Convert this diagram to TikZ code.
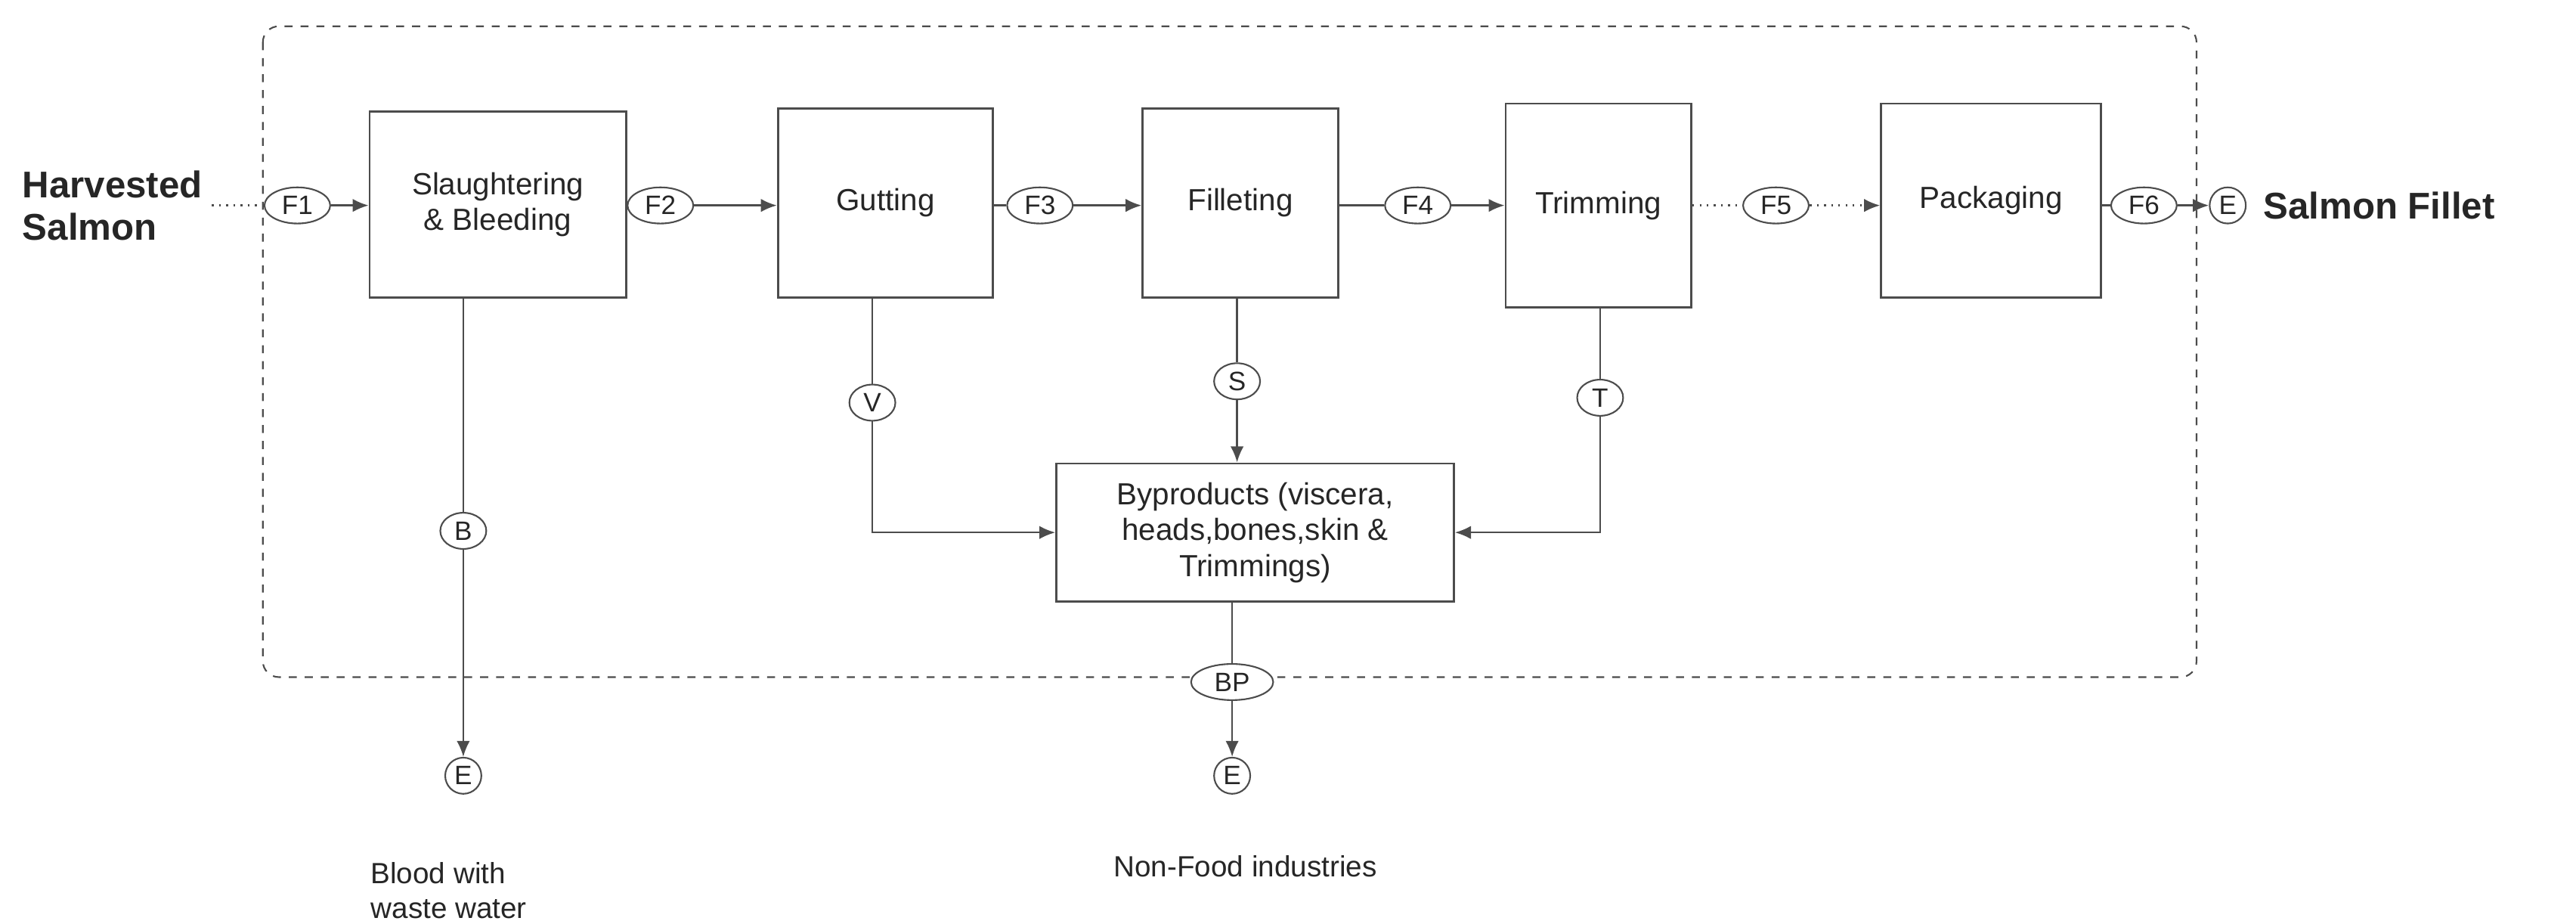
\documentclass[tikz,border=0pt]{standalone}
\usepackage{fontspec}
\setmainfont{Liberation Sans}
\usetikzlibrary{arrows.meta,shapes.geometric}
\begin{document}
\begin{tikzpicture}[x=0.02173cm,y=-0.02173cm,
  every node/.style={text=black!85},
  proc/.style={draw=black!70,line width=0.8pt,inner sep=0pt,font=\fontsize{11.5}{13.5}\selectfont,align=center},
  lab/.style={draw=black!70,line width=0.6pt,ellipse,inner sep=0pt,minimum height=22*0.02173cm,fill=white,font=\fontsize{10}{12}\selectfont},
  ln/.style={draw=black!70,line width=0.7pt},
  arr/.style={ln,-{Latex[length=6pt,width=5pt]}},
  dot/.style={ln,dotted}]
\useasboundingbox (0,0) rectangle (1568,560);
\draw[black!70,dashed,rounded corners=6pt,line width=0.6pt] (160,16) rectangle (1337,412);
\node[font=\fontsize{14}{16}\selectfont\bfseries,align=left,anchor=west] (hs) at (8,125) {Harvested\\Salmon};
\node[proc,minimum width=156*0.02173cm,minimum height=113*0.02173cm] (sl) at (303,124.5) {Slaughtering\\\& Bleeding};
\node[proc,minimum width=131*0.02173cm,minimum height=115*0.02173cm] (gu) at (539,123.5) {Gutting};
\node[proc,minimum width=119*0.02173cm,minimum height=115*0.02173cm] (fi) at (755,123.5) {Filleting};
\node[proc,minimum width=113*0.02173cm,minimum height=124*0.02173cm] (tr) at (973,125) {Trimming};
\node[proc,minimum width=134*0.02173cm,minimum height=118*0.02173cm] (pa) at (1212,122) {Packaging};
\node[proc,minimum width=242*0.02173cm,minimum height=84*0.02173cm] (by) at (764,324) {Byproducts (viscera,\\heads,bones,skin \&\\Trimmings)};
\foreach \n/\t/\x/\y/\w in {f1/F1/181/125/40, f2/F2/402/125/40, f3/F3/633/125/40, f4/F4/863/125/40, f5/F5/1081/125/40, f6/F6/1305/125/40, b/B/282/323/28, v/V/531/245/28, s/S/753/232/28, t/T/974/242/28, bp/BP/750/415/50}
  \node[lab,minimum width=\w*0.02173cm] (\n) at (\x,\y) {\t};
\node[draw=black!70,line width=0.6pt,circle,inner sep=0pt,minimum size=22*0.02173cm,font=\fontsize{10}{12}\selectfont] (e1) at (1356,125) {E};
\node[draw=black!70,line width=0.6pt,circle,inner sep=0pt,minimum size=22*0.02173cm,font=\fontsize{10}{12}\selectfont] (e2) at (282,472) {E};
\node[draw=black!70,line width=0.6pt,circle,inner sep=0pt,minimum size=22*0.02173cm,font=\fontsize{10}{12}\selectfont] (e3) at (750,472) {E};
\node[font=\fontsize{14}{16}\selectfont\bfseries,anchor=west] (sf) at (1372,125) {Salmon Fillet};
\node[font=\fontsize{11}{13}\selectfont,align=left,anchor=west] (bw) at (220,542) {Blood with\\waste water};
\node[font=\fontsize{11}{13}\selectfont] (nf) at (758,527) {Non-Food industries};
% main line
\draw[dot] (hs.east |- f1) -- (f1);
\draw[arr] (f1) -- (f1 -| sl.west);
\draw[ln] (f2 -| sl.east) -- (f2);
\draw[arr] (f2) -- (f2 -| gu.west);
\draw[ln] (f3 -| gu.east) -- (f3);
\draw[arr] (f3) -- (f3 -| fi.west);
\draw[ln] (f4 -| fi.east) -- (f4);
\draw[arr] (f4) -- (f4 -| tr.west);
\draw[dot] (f5 -| tr.east) -- (f5);
\draw[dot,-{Latex[length=6pt,width=5pt]}] (f5) -- (f5 -| pa.west);
\draw[ln] (f6 -| pa.east) -- (f6);
\draw[arr] (f6) -- (e1);
% verticals
\draw[ln] (sl.south -| b) -- (b);
\draw[arr] (b) -- (e2);
\draw[ln] (gu.south -| v) -- (v);
\draw[arr] (v) |- (by.west);
\draw[ln] (fi.south -| s) -- (s);
\draw[arr] (s) -- (by.north -| s);
\draw[ln] (tr.south -| t) -- (t);
\draw[arr] (t) |- (by.east);
\draw[ln] (by.south -| bp) -- (bp);
\draw[arr] (bp) -- (e3);
\end{tikzpicture}
\end{document}
